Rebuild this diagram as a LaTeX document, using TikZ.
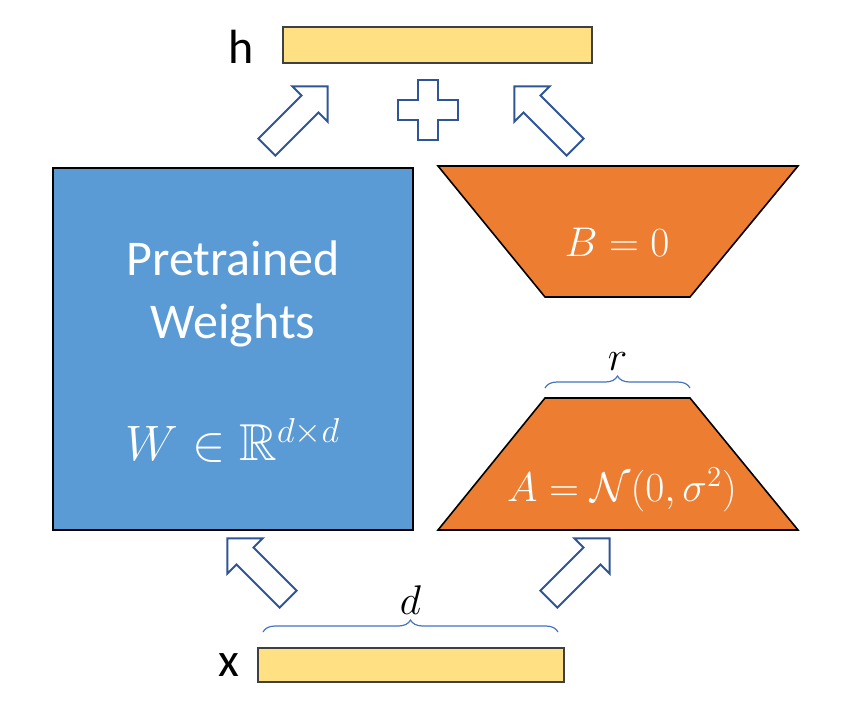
\documentclass[tikz,border=0pt]{standalone}
\usepackage{amssymb,amsmath}
\usepackage{fontspec}
\setmainfont{Carlito}
\usetikzlibrary{shapes.arrows,decorations.pathreplacing}
\definecolor{barfill}{HTML}{FFE083}
\definecolor{wblue}{HTML}{5B9BD5}
\definecolor{lorange}{HTML}{ED7D31}
\definecolor{arrowline}{HTML}{2F5597}
\definecolor{bracecol}{HTML}{4472C4}
\tikzstyle{bar}=[draw=black!75,fill=barfill,line width=0.8pt]
\tikzstyle{block}=[draw=black,line width=0.8pt]
\tikzstyle{hollow}=[single arrow,draw=arrowline,fill=white,line width=1pt,minimum height=43pt,inner sep=5.5pt,single arrow head extend=6.5pt]
\tikzstyle{bracket}=[decorate,decoration={brace,amplitude=6pt},draw=bracecol,line width=0.6pt]
\begin{document}
\begin{tikzpicture}[x=0.5pt,y=-0.5pt]
	\useasboundingbox (0,0) rectangle (842,722);
	% bars for input and output
	\draw[bar] (283,27) rectangle (592,63);
	\node (hlab) at (241,47) {\fontsize{24}{28}\selectfont h};
	\draw[bar] (258,648) rectangle (564,682);
	\node (xlab) at (229,665) {\fontsize{24}{28}\selectfont x};
	% pretrained weights
	\draw[block,fill=wblue] (53,168) rectangle (413,530);
	\node[text=white] (ptw1) at (233,258) {\fontsize{25}{30}\selectfont Pretrained};
	\node[text=white] (ptw2) at (233,325) {\fontsize{25}{30}\selectfont Weights};
	\node[text=white] (wmat) at (233,440) {\fontsize{26}{30}\selectfont $W\in\mathbb{R}^{d\times d}$};
	% low rank matrices
	\draw[block,fill=lorange] (438,166) -- (798,166) -- (690,297) -- (545,297) -- cycle;
	\node[text=white] (bzero) at (617,242) {\fontsize{21}{24}\selectfont $B=0$};
	\draw[block,fill=lorange] (545,398) -- (690,398) -- (798,530) -- (438,530) -- cycle;
	\node[text=white] (amat) at (622,490) {\fontsize{21}{24}\selectfont $A=\mathcal{N}(0,\sigma^2)$};
	% braces
	\draw[bracket] (545,388) -- (690,388) node[midway,above=5pt] (rlab) {\fontsize{21}{24}\selectfont $r$};
	\draw[bracket] (263,632) -- (558,632) node[midway,above=5pt] (dlab) {\fontsize{21}{24}\selectfont $d$};
	% hollow arrows
	\node[hollow,rotate=45] (up1) at (293,121) {};
	\node[hollow,rotate=135] (up2) at (549,121) {};
	\node[hollow,rotate=135] (in1) at (262,573) {};
	\node[hollow,rotate=45] (in2) at (575,573) {};
	% plus sign
	\draw[draw=arrowline,fill=white,line width=1pt] (418,80) -- (438,80) -- (438,100) -- (458,100) -- (458,120) -- (438,120) -- (438,140) -- (418,140) -- (418,120) -- (398,120) -- (398,100) -- (418,100) -- cycle;
\end{tikzpicture}
\end{document}
